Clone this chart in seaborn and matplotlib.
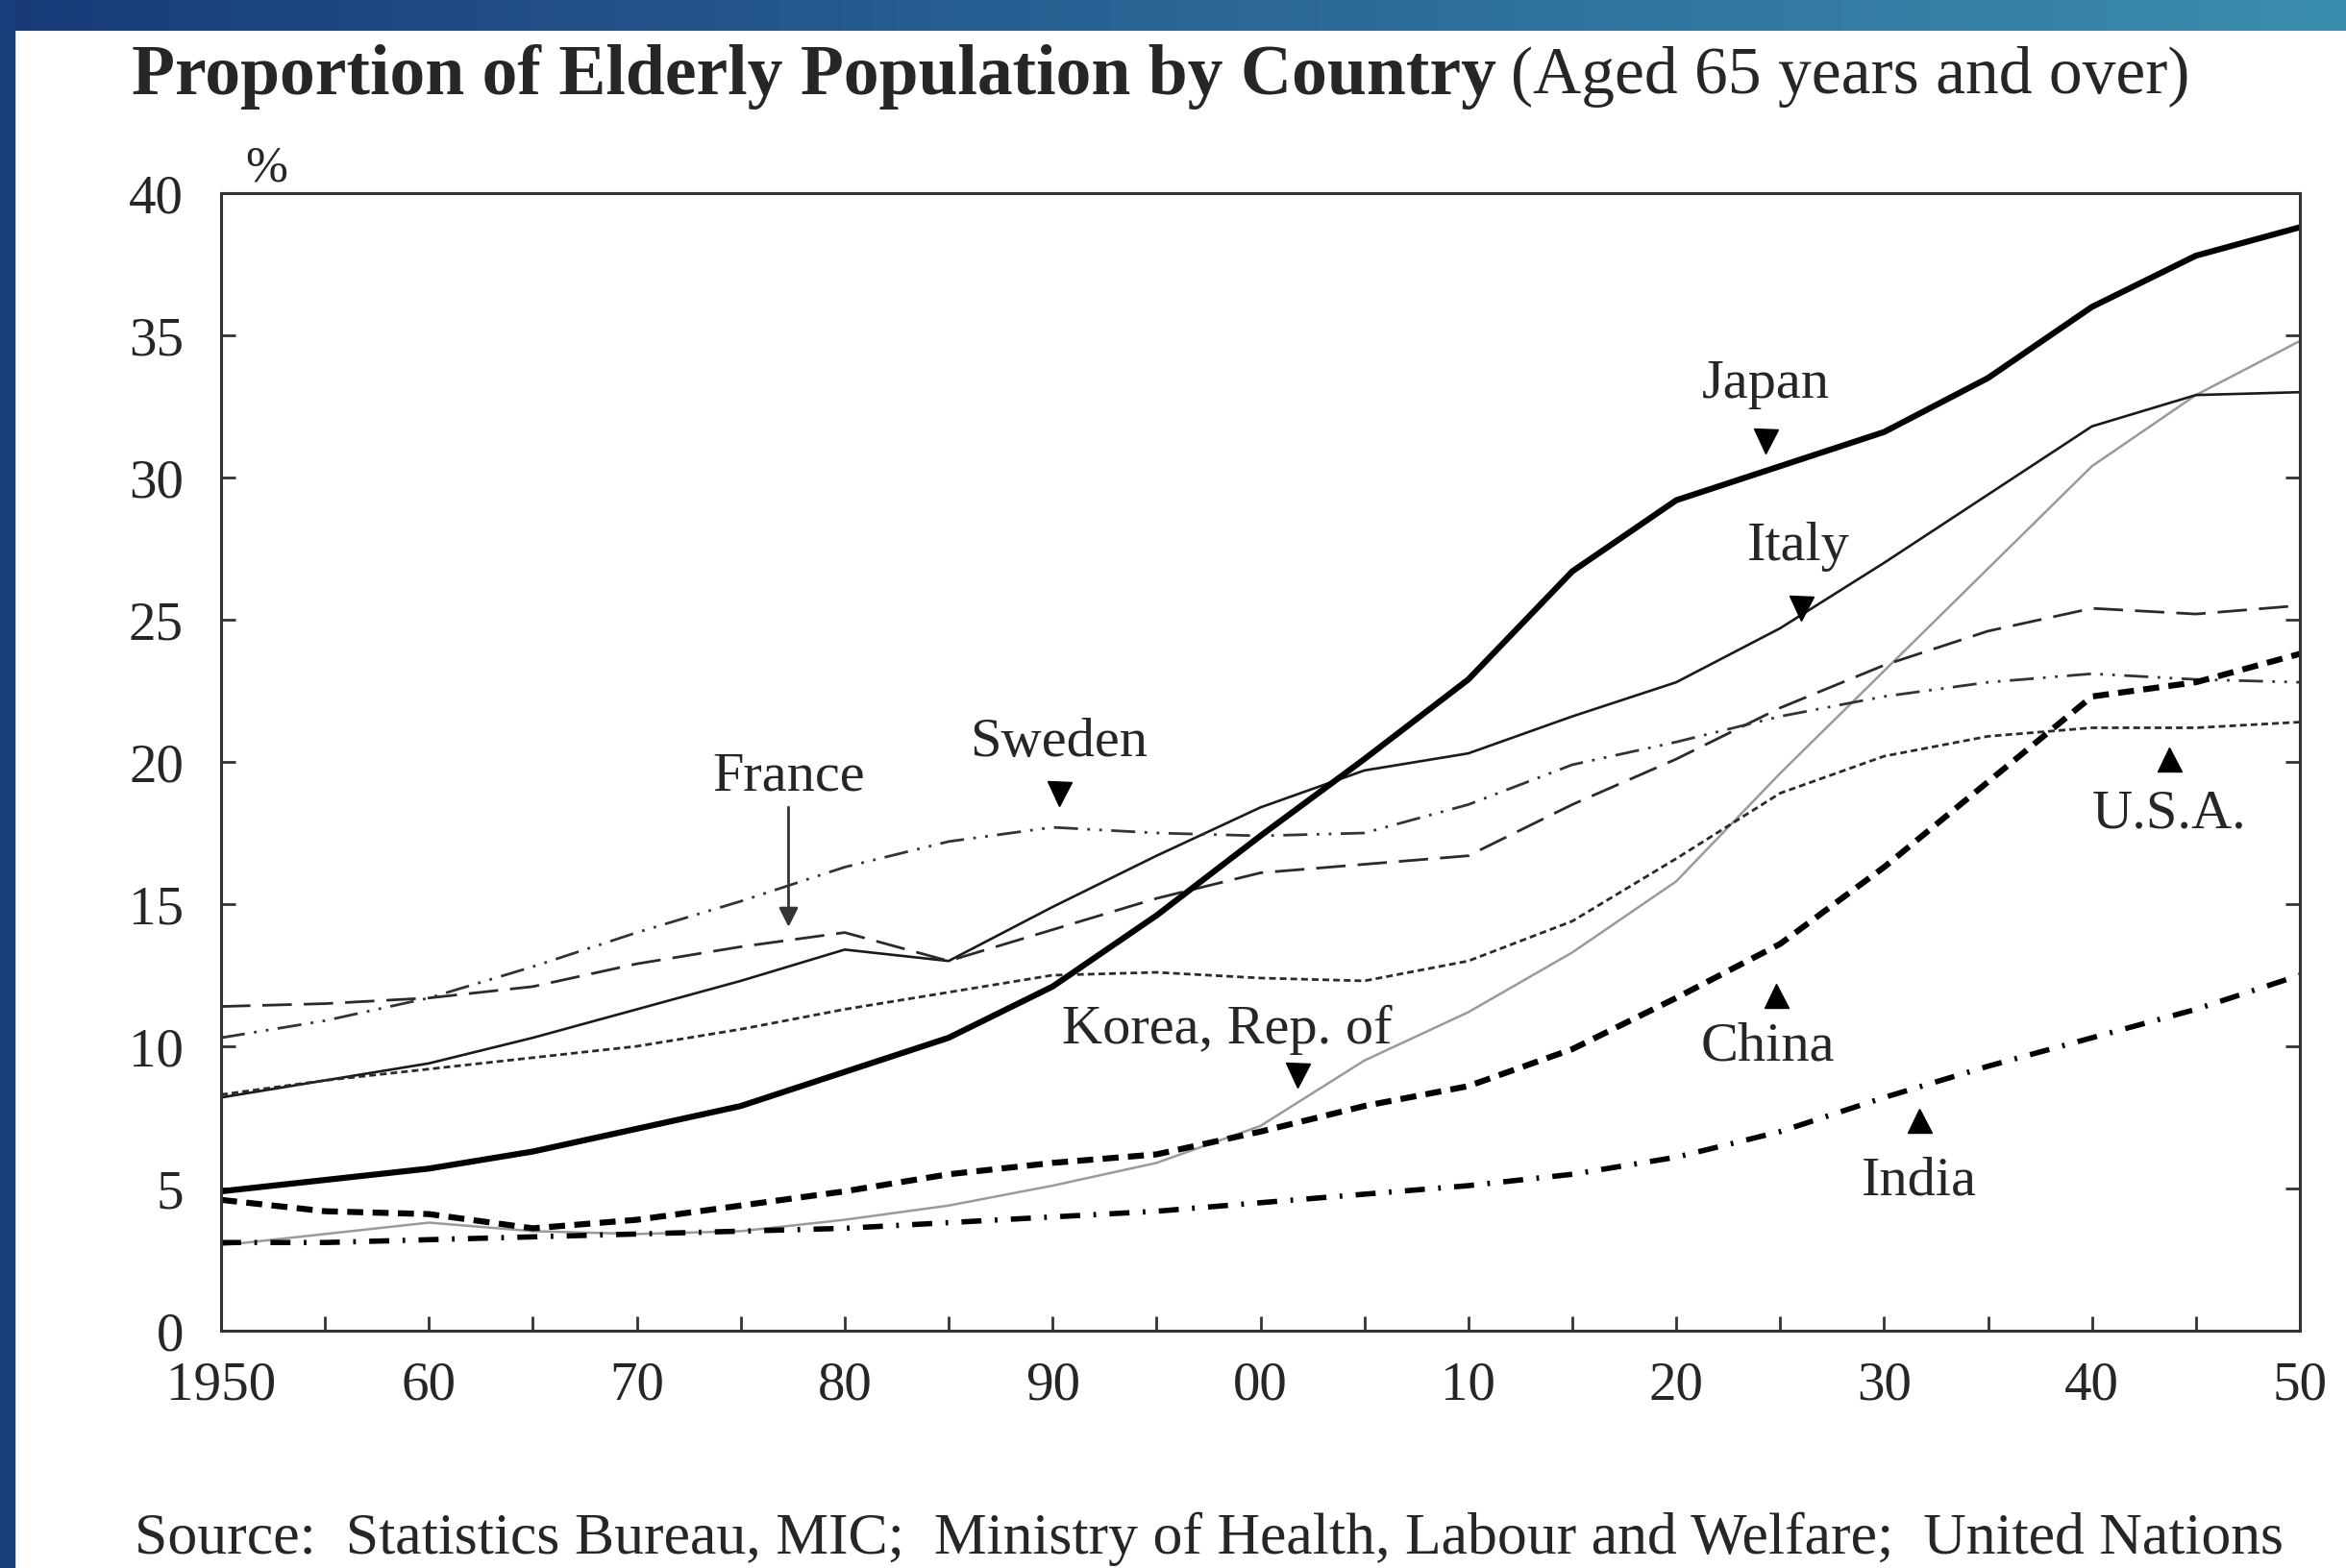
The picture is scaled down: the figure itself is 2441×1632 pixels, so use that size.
import matplotlib
matplotlib.use('Agg')
import matplotlib.pyplot as plt
from matplotlib.patches import Rectangle
import seaborn as sns
import numpy as np
import pandas as pd

# data (% of population aged 65+)
years = list(range(1950, 2051, 5))
japan = [4.9, 5.3, 5.7, 6.3, 7.1, 7.9, 9.1, 10.3, 12.1, 14.6, 17.4, 20.1, 22.9, 26.7, 29.2, 30.4, 31.6, 33.5, 36.0, 37.8, 38.8]
italy = [8.2, 8.8, 9.4, 10.3, 11.3, 12.3, 13.4, 13.0, 14.9, 16.7, 18.4, 19.7, 20.3, 21.6, 22.8, 24.7, 27.0, 29.4, 31.8, 32.9, 33.0]
france = [11.4, 11.5, 11.7, 12.1, 12.9, 13.5, 14.0, 13.0, 14.1, 15.2, 16.1, 16.4, 16.7, 18.5, 20.1, 21.9, 23.4, 24.6, 25.4, 25.2, 25.5]
sweden = [10.3, 10.9, 11.7, 12.8, 14.0, 15.1, 16.3, 17.2, 17.7, 17.5, 17.4, 17.5, 18.5, 19.9, 20.7, 21.6, 22.3, 22.8, 23.1, 22.9, 22.8]
usa = [8.3, 8.8, 9.2, 9.6, 10.0, 10.6, 11.3, 11.9, 12.5, 12.6, 12.4, 12.3, 13.0, 14.4, 16.6, 18.9, 20.2, 20.9, 21.2, 21.2, 21.4]
korea = [3.0, 3.4, 3.8, 3.5, 3.4, 3.5, 3.9, 4.4, 5.1, 5.9, 7.2, 9.5, 11.2, 13.3, 15.8, 19.6, 23.2, 26.8, 30.4, 32.9, 34.8]
china = [4.6, 4.2, 4.1, 3.6, 3.9, 4.4, 4.9, 5.5, 5.9, 6.2, 7.0, 7.9, 8.6, 9.9, 11.7, 13.6, 16.3, 19.3, 22.3, 22.8, 23.8]
india = [3.1, 3.1, 3.2, 3.3, 3.4, 3.5, 3.6, 3.8, 4.0, 4.2, 4.5, 4.8, 5.1, 5.5, 6.1, 7.0, 8.2, 9.3, 10.3, 11.3, 12.5]

xtick_years = list(range(1950, 2051, 10))
xtick_labels = ['1950', '60', '70', '80', '90', '00', '10', '20', '30', '40', '50']
ytick_values = list(range(0, 41, 5))

df = pd.DataFrame({'year': years, 'Japan': japan, 'Italy': italy, 'France': france,
                   'Sweden': sweden, 'U.S.A.': usa, 'Korea, Rep. of': korea,
                   'China': china, 'India': india})
df = df.melt(id_vars='year', var_name='country', value_name='pct')

sns.set_style('white')
plt.rcParams['font.family'] = ['Liberation Serif', 'DejaVu Serif']
plt.rcParams['lines.scale_dashes'] = False

fig = plt.figure(figsize=(24.41, 16.33), dpi=100)
W, H = 2441, 1633

# blue frame
top = fig.add_axes([0, 1 - 33 / H, 1, 33 / H])
grad = np.linspace(0, 1, 256).reshape(1, -1)
top.imshow(grad, aspect='auto', cmap=matplotlib.colors.LinearSegmentedColormap.from_list(
    'band', ['#183b78', '#2a6596', '#3b8dad']))
top.axis('off')
fig.patches.append(Rectangle((0, 0), 15 / W, 1, transform=fig.transFigure, color='#1a3d7c', zorder=0))

ax = fig.add_axes([230 / W, 1 - 1386 / H, (2393 - 230) / W, (1386 - 202) / H])

styles = {
    'Korea, Rep. of': dict(color='#9a9a9a', lw=1.8, ls='-'),
    'Italy': dict(color='#1a1a1a', lw=1.9, ls='-'),
    'France': dict(color='#2a2a2a', lw=2.0, ls=(0, (22, 9))),
    'Sweden': dict(color='#333333', lw=2.0, ls=(0, (18, 7, 2, 7, 2, 7))),
    'U.S.A.': dict(color='#2a2a2a', lw=2.0, ls=(0, (5, 3))),
    'China': dict(color='black', lw=4.5, ls=(0, (12, 7))),
    'India': dict(color='black', lw=4.0, ls=(0, (15, 10, 2, 10))),
    'Japan': dict(color='black', lw=4.5, ls='-'),
}
for name, st in styles.items():
    sns.lineplot(data=df[df.country == name], x='year', y='pct', ax=ax, **st)

ax.set_xlim(1950, 2050)
ax.set_ylim(0, 40)
ax.set_xlabel('')
ax.set_ylabel('')
ax.set_xticks(xtick_years)
ax.set_xticklabels(xtick_labels)
ax.set_xticks(list(range(1955, 2050, 10)), minor=True)
ax.set_yticks(ytick_values)
ax.set_yticklabels([str(v) for v in ytick_values])
for s in ax.spines.values():
    s.set_color('#333333')
    s.set_linewidth(2.2)
    s.set_visible(True)
ax.tick_params(axis='x', which='both', direction='in', length=11, width=2, color='#333333',
               bottom=True, top=False, labelsize=41, pad=22)
ax.tick_params(axis='y', which='both', direction='in', length=11, width=2, color='#333333',
               left=True, right=True, labelsize=41, pad=28)

ax.text(1952.2, 40.1, '%', fontsize=38, ha='center', va='bottom')

# country labels with pointers
lab = dict(fontsize=42, ha='center', va='center')
tri = dict(color='black', ms=18, ls='none', clip_on=False)
ax.text(2024.3, 33.3, 'Japan', **lab)
ax.plot([2024.3], [31.3], marker='v', **tri)
ax.text(2025.9, 27.6, 'Italy', **lab)
ax.plot([2026.0], [25.4], marker='v', **tri)
ax.text(1990.3, 20.7, 'Sweden', **lab)
ax.plot([1990.3], [18.9], marker='v', **tri)
ax.text(1977.3, 19.5, 'France', **lab)
ax.annotate('', xy=(1977.3, 14.1), xytext=(1977.3, 18.5),
            arrowprops=dict(arrowstyle='-|>', lw=2, color='#333333', mutation_scale=30))
ax.text(1998.4, 10.6, 'Korea, Rep. of', **lab)
ax.plot([2001.8], [9.0], marker='v', **tri)
ax.text(2024.4, 10.0, 'China', **lab)
ax.plot([2024.8], [11.8], marker='^', **tri)
ax.text(2031.7, 5.3, 'India', **lab)
ax.plot([2031.7], [7.4], marker='^', **tri)
ax.text(2043.7, 18.2, 'U.S.A.', **lab)
ax.plot([2043.7], [20.1], marker='^', **tri)

# title: bold part + regular part
t1 = fig.text(137 / W, 1 - 80 / H, 'Proportion of Elderly Population by Country',
              fontsize=53, fontweight='bold', ha='left', va='center')
fig.canvas.draw()
bb = t1.get_window_extent()
fig.text(bb.x1 / W + 0.006, 1 - 80 / H, '(Aged 65 years and over)',
         fontsize=50, ha='left', va='center')

fig.text(140 / W, 1 - 1602 / H,
         'Source:  Statistics Bureau, MIC;  Ministry of Health, Labour and Welfare;  United Nations',
         fontsize=44.5, ha='left', va='center')

fig.savefig('out.png', dpi=100)
